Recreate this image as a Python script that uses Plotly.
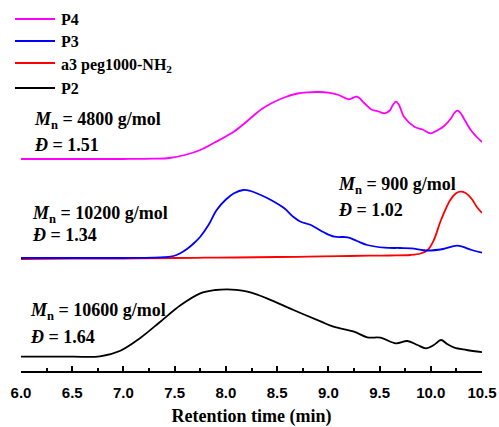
import plotly.graph_objects as go

# Retention time (min) and stacked detector response for each GPC trace
p4_t = [6.0, 6.5, 7.0, 7.3, 7.45, 7.6, 7.75, 7.9, 8.08, 8.22, 8.35, 8.45, 8.57, 8.7, 8.8,
        8.9, 9.0, 9.1, 9.2, 9.28, 9.35, 9.42, 9.49, 9.55, 9.6, 9.63, 9.66, 9.69, 9.74, 9.84,
        9.92, 10.0, 10.07, 10.13, 10.2, 10.23, 10.26, 10.29, 10.32, 10.39, 10.45, 10.5]
p4_v = [211, 211, 211, 211.3, 212, 215, 220, 228, 238.5, 250, 261, 267, 272.5, 276.5, 277.7,
        278, 277.3, 275, 270.7, 273.3, 267, 260.5, 258.5, 256.7, 259.5, 265, 268.3, 265, 253,
        243.3, 240.5, 236.7, 240, 244, 252, 257, 259.3, 257, 252, 240, 233, 228]

p3_t = [6.0, 6.5, 7.0, 7.3, 7.4, 7.49, 7.55, 7.62, 7.69, 7.75, 7.83, 7.91, 8.0, 8.08, 8.17,
        8.24, 8.34, 8.44, 8.57, 8.66, 8.73, 8.83, 8.95, 9.06, 9.19, 9.28, 9.38, 9.55, 9.7,
        9.81, 9.97, 10.12, 10.26, 10.4, 10.5]
p3_v = [112, 112, 112, 112.3, 112.8, 114, 116.5, 121, 127, 133.3, 145, 160, 170.5, 176.7, 180,
        179, 175, 170, 161.7, 153, 148.3, 145, 138, 133.3, 132.7, 129, 125, 122.3, 122,
        121.7, 119.5, 121, 124.3, 120, 117.3]

a3_t = [6.0, 6.5, 7.0, 7.5, 7.8, 8.1, 8.5, 8.8, 9.1, 9.4, 9.6, 9.8, 9.9, 9.97, 10.03, 10.1,
        10.19, 10.25, 10.29, 10.34, 10.4, 10.45, 10.5]
a3_v = [111, 111.3, 111.5, 112, 112.3, 112.5, 113, 113.3, 113.8, 114.3, 114.5, 115, 116.5, 120,
        130, 150, 170, 177, 178.3, 177, 171, 163, 157]

p2_t = [6.0, 6.5, 6.77, 6.97, 7.16, 7.36, 7.56, 7.75, 7.9, 8.01, 8.1, 8.21, 8.4, 8.66, 8.93,
        9.05, 9.25, 9.38, 9.51, 9.66, 9.77, 9.87, 9.95, 10.03, 10.1, 10.16, 10.23, 10.35, 10.51]
p2_v = [13.3, 13.3, 13.7, 19.3, 31.7, 48.3, 65, 76.7, 80, 80.7, 80.2, 78.3, 71.7, 60, 48.3,
        43.3, 38.3, 32.7, 32.3, 26.7, 29, 25, 21.7, 25, 30, 26, 22.3, 20, 17.7]

# Molar mass / dispersity labels: (x, y, text)
labels = [
    (6.11, 250, "<i>M</i><sub>n</sub> = 4800 g/mol"),
    (6.11, 225, "<i>Đ</i> = 1.51"),
    (6.09, 156, "<i>M</i><sub>n</sub> = 10200 g/mol"),
    (6.09, 135, "<i>Đ</i> = 1.34"),
    (9.07, 185, "<i>M</i><sub>n</sub> = 900 g/mol"),
    (9.07, 160, "<i>Đ</i> = 1.02"),
    (6.07, 59, "<i>M</i><sub>n</sub> = 10600 g/mol"),
    (6.07, 33, "<i>Đ</i> = 1.64"),
]

serif = "Times New Roman, Liberation Serif, serif"
sans = "Arial, Liberation Sans, sans-serif"

W, H = 499, 427
ML, MR, MT, MB = 21, 17, 0, 56
PW, PH = W - ML - MR, H - MT - MB

fig = go.Figure()
# drawing order: red under blue
traces = [
    (p2_t, p2_v, "P2", "#000000"),
    (a3_t, a3_v, "a3 peg1000-NH<sub>2</sub>", "#ff0000"),
    (p3_t, p3_v, "P3", "#0000ff"),
    (p4_t, p4_v, "P4", "#ff00ff"),
]
for t, v, name, color in traces:
    fig.add_trace(go.Scatter(
        x=t, y=v, name=name, mode="lines",
        line=dict(color=color, width=1.8, shape="spline", smoothing=1.0),
        showlegend=False,
    ))

for x, y, text in labels:
    fig.add_annotation(x=x, y=y, text="<b>%s</b>" % text, showarrow=False,
                       xanchor="left", yanchor="middle",
                       font=dict(family=serif, size=18, color="black"))

# Key in the top-left corner: a short line sample and the series name per row
key_rows = [("P4", "#ff00ff", 19, 19), ("P3", "#0000ff", 41, 41),
            ("a3 peg1000-NH<sub>2</sub>", "#ff0000", 63, 65), ("P2", "#000000", 88, 88)]


def px_x(px):
    return (px - ML) / PW


def px_y(py):
    return 1 - (py - MT) / PH


for name, color, line_y, text_y in key_rows:
    fig.add_shape(type="line", xref="paper", yref="paper",
                  x0=px_x(15), x1=px_x(55), y0=px_y(line_y), y1=px_y(line_y),
                  line=dict(color=color, width=1.8), layer="above")
    fig.add_annotation(xref="paper", yref="paper", x=px_x(59), y=px_y(text_y),
                       text="<b>%s</b>" % name, showarrow=False,
                       xanchor="left", yanchor="middle",
                       font=dict(family=serif, size=16, color="black"))

fig.update_layout(
    width=W, height=H,
    margin=dict(l=ML, r=MR, t=MT, b=MB, autoexpand=False),
    paper_bgcolor="white", plot_bgcolor="white",
    font=dict(family=serif),
    showlegend=False,
    xaxis=dict(
        range=[6.0, 10.5], tickmode="linear", tick0=6.0, dtick=0.5, tickformat=".1f",
        ticks="inside", ticklen=5, tickwidth=1.5, tickcolor="black",
        minor=dict(ticks="inside", ticklen=3, tickwidth=1.5, tickcolor="black", dtick=0.25),
        showline=True, linecolor="black", linewidth=1.5, showgrid=False, zeroline=False,
        ticklabelstandoff=7,
        tickfont=dict(family=sans, size=15, color="black", weight="bold"),
        title=dict(text="<b>Retention time (min)</b>", standoff=14,
                   font=dict(family=serif, size=18, color="black")),
    ),
    yaxis=dict(range=[-1, 370], visible=False, showgrid=False, zeroline=False),
)

fig.write_html("out.html")
